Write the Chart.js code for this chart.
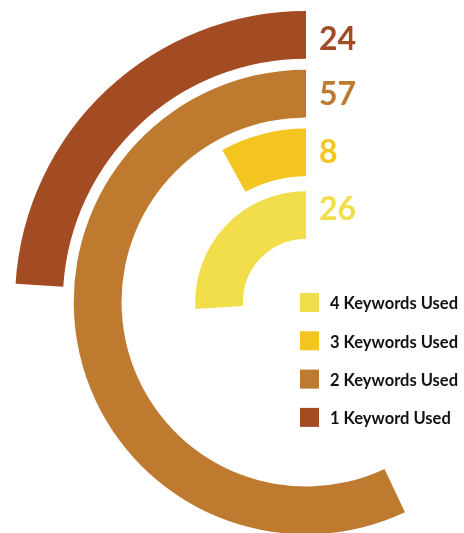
<!DOCTYPE html>
<html>
<head>
<meta charset="utf-8">
<script src="https://cdn.jsdelivr.net/npm/chart.js@4.4.0/dist/chart.umd.min.js"></script>
<style>
  html, body { margin: 0; padding: 0; background: #fff; }
  #wrap { position: relative; width: 464px; height: 533px; overflow: hidden; }
  #chart { position: absolute; left: 0; top: 0; }
</style>
</head>
<body>
<div id="wrap"><canvas id="chart" width="612" height="604"></canvas></div>
<script>
// Data, outermost ring first
const labels = ['1 Keyword Used', '2 Keywords Used', '3 Keywords Used', '4 Keywords Used'];
const values = [24, 57, 8, 26];
const colors = ['#A34C24', '#BE7A2F', '#F4C51F', '#F2DE4A'];
const maxValue = 100;

// Ring geometry
const outerRadius = 291;
const innerRadius = 63;
const ringWidth = 48;
const gaps = [11, 11, 15];
// small vertical nudges for the value labels (px), outer ring first
const labelNudge = [4, 0, -1, -6];

// Each ring: transparent remainder first, so the coloured part ends at 12 o'clock
// and runs counter-clockwise from there
const datasets = [];
values.forEach(function(v, i) {
  datasets.push({
    label: labels[i],
    ringIndex: i,
    data: [maxValue - v, v],
    backgroundColor: ['rgba(0,0,0,0)', colors[i]],
    borderWidth: 0,
    weight: 1
  });
  if (i < gaps.length) {
    datasets.push({
      label: 'gap',
      data: [maxValue],
      backgroundColor: ['rgba(0,0,0,0)'],
      borderWidth: 0,
      weight: gaps[i] / ringWidth
    });
  }
});

const ringLabels = {
  id: 'ringLabels',
  afterDatasetsDraw(chart) {
    const ctx = chart.ctx;
    ctx.save();
    chart.data.datasets.forEach(function(ds, di) {
      if (ds.ringIndex === undefined) return;
      const arc = chart.getDatasetMeta(di).data[1];
      const mid = (arc.outerRadius + arc.innerRadius) / 2;
      ctx.fillStyle = colors[ds.ringIndex];
      ctx.font = 'bold 32px Lato';
      ctx.textAlign = 'left';
      ctx.textBaseline = 'middle';
      ctx.fillText(String(values[ds.ringIndex]), arc.x + 13, arc.y - mid + 1 + labelNudge[ds.ringIndex]);
    });

    // Legend, innermost ring on top
    const boxX = 300, top = 293, step = 38.3, box = 19;
    for (let k = 0; k < labels.length; k++) {
      const i = labels.length - 1 - k;
      const y = top + k * step;
      ctx.fillStyle = colors[i];
      ctx.fillRect(boxX, y, box, box);
      ctx.fillStyle = '#111';
      ctx.font = 'bold 16.5px Lato';
      ctx.textBaseline = 'middle';
      ctx.fillText(labels[i], 330, y + box / 2 + 1.5);
    }
    ctx.restore();
  }
};

new Chart(document.getElementById('chart'), {
  type: 'doughnut',
  data: { labels: ['rest', 'value'], datasets: datasets },
  options: {
    responsive: false,
    maintainAspectRatio: false,
    animation: false,
    events: [],
    radius: outerRadius,
    cutout: (innerRadius / outerRadius * 100) + '%',
    rotation: 0,
    circumference: 360,
    plugins: {
      legend: { display: false },
      tooltip: { enabled: false }
    }
  },
  plugins: [ringLabels]
});
</script>
</body>
</html>
